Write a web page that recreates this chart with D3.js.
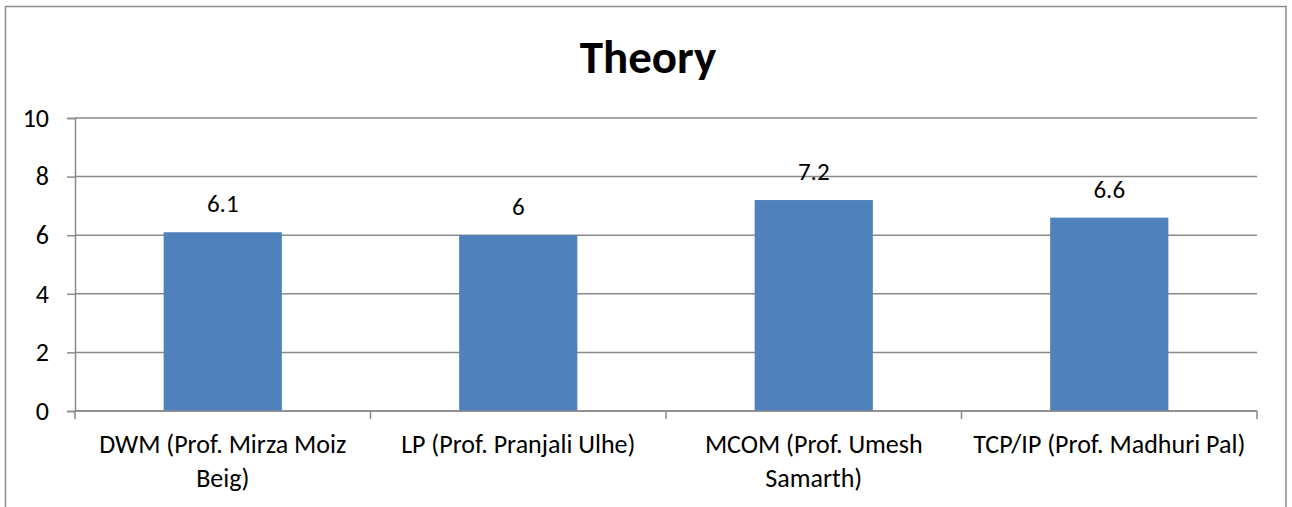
<!DOCTYPE html>
<html><head><meta charset="utf-8">
<script src="https://cdn.jsdelivr.net/npm/d3@7"></script>
<style>body{margin:0;background:#fff}svg{display:block}text{font-family:Carlito,"Open Sans",sans-serif}</style>
</head><body><svg id="c" width="1292" height="507"></svg>
<script>
const categories = ["DWM (Prof. Mirza Moiz Beig)", "LP (Prof. Pranjali Ulhe)", "MCOM (Prof. Umesh Samarth)", "TCP/IP (Prof. Madhuri Pal)"];
const categoryLines = [["DWM (Prof. Mirza Moiz", "Beig)"], ["LP (Prof. Pranjali Ulhe)"], ["MCOM (Prof. Umesh", "Samarth)"], ["TCP/IP (Prof. Madhuri Pal)"]];
const values = [6.1, 6, 7.2, 6.6];
const yTicks = [0, 2, 4, 6, 8, 10];
const title = "Theory";

const svg = d3.select("#c");
svg.append("rect").attr("x",5.5).attr("y",6.5).attr("width",1280.5).attr("height",520)
  .attr("fill","#fff").attr("stroke","#8c8c8c").attr("stroke-width",1.5);

const L=75, R=1257, T=118, B=411;
const x = d3.scaleBand().domain(categories).range([L,R]).paddingInner(0.6).paddingOuter(0.3);
const y = d3.scaleLinear().domain([0,10]).range([B,T]);

svg.append("text").attr("x",648).attr("y",73).attr("text-anchor","middle")
  .attr("font-size",47).attr("font-weight","bold").attr("fill","#000").text(title);

// gridlines
svg.append("g").selectAll("line").data(yTicks).join("line")
  .attr("x1",L).attr("x2",R).attr("y1",d=>y(d)).attr("y2",d=>y(d))
  .attr("stroke","#8a8a8a").attr("stroke-width",1.5);

// bars
svg.append("g").selectAll("rect").data(values).join("rect")
  .attr("x",(d,i)=>x(categories[i])).attr("width",x.bandwidth())
  .attr("y",d=>y(d)).attr("height",d=>B-y(d)).attr("fill","#4F81BD");

// y axis
const ya = svg.append("g").attr("transform",`translate(${L},0)`)
  .call(d3.axisLeft(y).tickValues(yTicks).tickSize(8).tickPadding(18).tickFormat(d3.format("d")));
ya.select(".domain").attr("stroke","#8a8a8a").attr("stroke-width",1.5);
ya.selectAll(".tick line").attr("stroke","#8a8a8a").attr("stroke-width",1.5);
ya.selectAll("text").attr("font-size",26).attr("fill","#000").attr("dy","0.32em").attr("font-family",'Carlito,"Open Sans",sans-serif');

// x axis
const step = (R-L)/categories.length;
svg.append("line").attr("x1",L).attr("x2",R).attr("y1",B).attr("y2",B).attr("stroke","#8a8a8a").attr("stroke-width",1.5);
svg.append("g").selectAll("line").data(d3.range(categories.length+1)).join("line")
  .attr("x1",i=>L+i*step).attr("x2",i=>L+i*step).attr("y1",B).attr("y2",B+8)
  .attr("stroke","#8a8a8a").attr("stroke-width",1.5);
const xl = svg.append("g").selectAll("text").data(categoryLines).join("text")
  .attr("text-anchor","middle").attr("font-size",26).attr("fill","#000")
  .attr("transform",(d,i)=>`translate(${x(categories[i])+x.bandwidth()/2},0)`);
xl.selectAll("tspan").data(d=>d).join("tspan").attr("x",0).attr("y",(d,j)=>453+j*34).text(d=>d);

// data labels
svg.append("g").selectAll("text").data(values).join("text")
  .attr("x",(d,i)=>x(categories[i])+x.bandwidth()/2).attr("y",d=>y(d)-20)
  .attr("text-anchor","middle").attr("font-size",25).attr("fill","#000").text(d=>d);
</script></body></html>
